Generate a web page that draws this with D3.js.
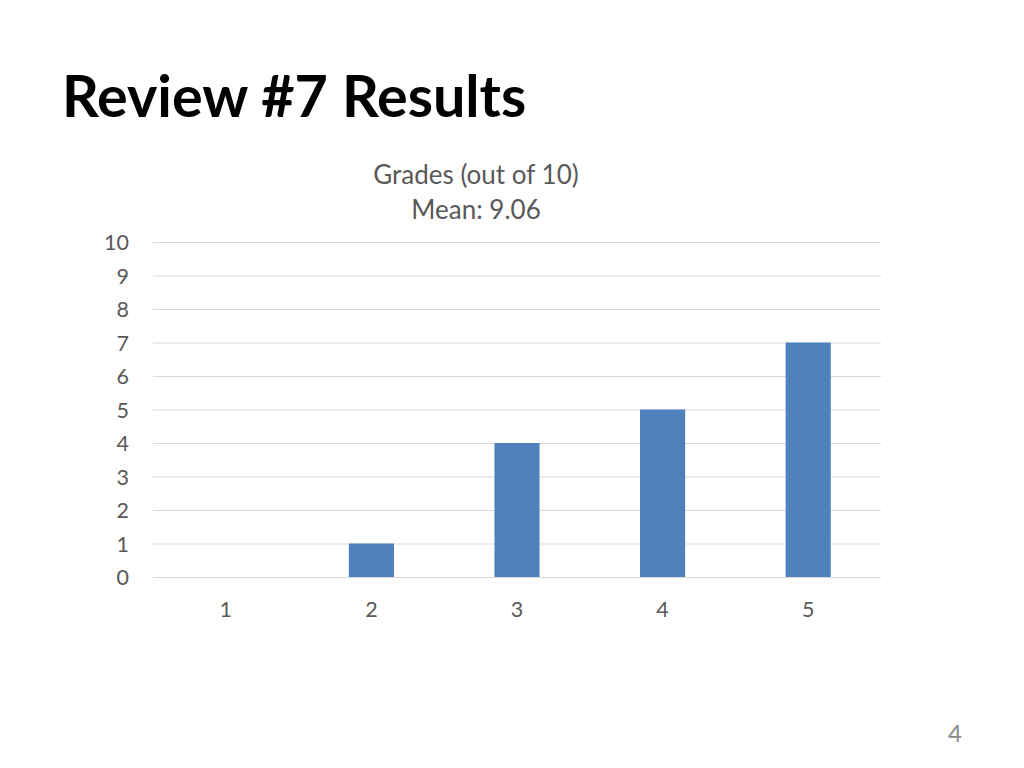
<!DOCTYPE html>
<html><head><meta charset="utf-8">
<script src="https://cdn.jsdelivr.net/npm/d3@7"></script>
<style>body{margin:0;background:#fff}svg{display:block}</style>
</head><body>
<script>
const categories = ["1","2","3","4","5"];
const values = [0,1,4,5,7];
const yTicks = [0,1,2,3,4,5,6,7,8,9,10];
const pageTitle = "Review #7 Results";
const chartTitle = ["Grades (out of 10)","Mean: 9.06"];
const pageNumber = "4";

const W=1024,H=768;
const svg=d3.select("body").append("svg").attr("width",W).attr("height",H);
const font="Lato, 'Open Sans', sans-serif";
const x=d3.scaleBand().domain(categories).range([153,881]).paddingInner(0.69).paddingOuter(0.345);
const y=d3.scaleLinear().domain([0,10]).range([577,242]);

svg.append("text").attr("x",62).attr("y",117).attr("font-family",font).attr("font-weight","bold")
  .attr("font-size",57.5).attr("fill","#000").text(pageTitle);

svg.selectAll(".ct").data(chartTitle).enter().append("text").attr("x",476).attr("y",(d,i)=>184+i*35)
  .attr("text-anchor","middle").attr("font-family",font).attr("font-size",26).attr("fill","#595959").text(d=>d);

const grid=svg.append("g").attr("transform","translate(153,0)")
  .call(d3.axisLeft(y).tickValues(yTicks).tickSize(-728).tickFormat(""));
grid.select(".domain").remove();
grid.selectAll("line").attr("stroke","#d9d9d9").attr("stroke-width",1);

const ya=svg.append("g").attr("transform","translate(129,0)")
  .call(d3.axisLeft(y).tickValues(yTicks).tickSize(0).tickPadding(0));
ya.select(".domain").remove();
ya.selectAll("text").attr("font-family",font).attr("font-size",21.5).attr("fill","#595959").attr("dy","0.35em");

svg.selectAll(".bar").data(values).enter().append("rect")
  .attr("x",(d,i)=>x(categories[i])).attr("width",x.bandwidth())
  .attr("y",d=>y(d)).attr("height",d=>y(0)-y(d)).attr("fill","#4f81bd");

const xa=svg.append("g").attr("transform","translate(0,577)")
  .call(d3.axisBottom(x).tickSize(0).tickPadding(25));
xa.select(".domain").remove();
xa.selectAll("text").attr("font-family",font).attr("font-size",21.5).attr("fill","#595959");

svg.append("text").attr("x",955).attr("y",742).attr("text-anchor","middle").attr("font-family",font)
  .attr("font-size",24).attr("fill","#8c8c8c").text(pageNumber);
</script>
</body></html>
